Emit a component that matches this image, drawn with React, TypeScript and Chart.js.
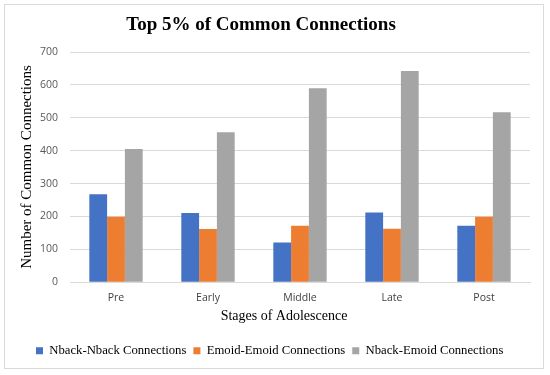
import React, { useEffect, useRef } from "react";
import { Chart, registerables } from "chart.js";

Chart.register(...registerables);

const categories = ["Pre", "Early", "Middle", "Late", "Post"];
const nbackNback = [268, 211, 121, 212, 172];
const emoidEmoid = [199, 162, 172, 163, 199];
const nbackEmoid = [405, 456, 590, 642, 517];
const seriesNames = ["Nback-Nback Connections", "Emoid-Emoid Connections", "Nback-Emoid Connections"];
const yTicks = [0, 100, 200, 300, 400, 500, 600, 700];
const chartTitle = "Top 5% of Common Connections";
const xTitle = "Stages of Adolescence";
const yTitle = "Number of Common Connections";

const SERIF = "'Liberation Serif', 'Times New Roman', serif";
const SANS = "'Open Sans', 'Liberation Sans', sans-serif";

const textPlugin = {
  id: "texts",
  afterDraw(chart: any) {
    const ctx = chart.ctx;
    ctx.save();
    ctx.fillStyle = "#000";
    ctx.textAlign = "center";
    ctx.textBaseline = "middle";
    ctx.font = `bold 19px ${SERIF}`;
    ctx.fillText(chartTitle, 261, 25);
    ctx.font = `14px ${SERIF}`;
    ctx.fillText(xTitle, 284, 316);
    ctx.translate(27, 167);
    ctx.rotate(-Math.PI / 2);
    ctx.font = `15px ${SERIF}`;
    ctx.fillText(yTitle, 0, 0);
    ctx.restore();
  },
};

export default function App() {
  const ref = useRef<HTMLCanvasElement | null>(null);
  useEffect(() => {
    document.body.style.margin = "0";
    const ctx = ref.current!;
    const chart = new Chart(ctx, {
      type: "bar",
      data: {
        labels: categories,
        datasets: [
          { label: seriesNames[0], data: nbackNback, backgroundColor: "#4472C4" },
          { label: seriesNames[1], data: emoidEmoid, backgroundColor: "#ED7D31" },
          { label: seriesNames[2], data: nbackEmoid, backgroundColor: "#A5A5A5" },
        ],
      },
      plugins: [textPlugin],
      options: {
        animation: false,
        responsive: false,
        maintainAspectRatio: false,
        datasets: { bar: { categoryPercentage: 0.58, barPercentage: 1 } },
        layout: { padding: { left: 29, right: 20, top: 52, bottom: 8 } },
        plugins: {
          title: { display: false },
          legend: {
            position: "bottom",
            align: "start",
            labels: {
              color: "#000",
              boxWidth: 7,
              boxHeight: 7,
              padding: 7,
              font: { family: SERIF, size: 12.7 },
            },
          },
          tooltip: { enabled: false },
        },
        scales: {
          x: {
            grid: { display: false },
            border: { color: "#d9d9d9" },
            ticks: { color: "#404040", font: { family: SANS, size: 10.5 }, padding: 1 },
            afterFit: (s: any) => {
              s.height = 55;
            },
          },
          y: {
            min: 0,
            max: 700,
            afterBuildTicks: (s: any) => {
              s.ticks = yTicks.map((v) => ({ value: v }));
            },
            afterFit: (s: any) => {
              s.width = 41;
            },
            grid: { color: "#d9d9d9", drawTicks: false },
            border: { display: false },
            ticks: { color: "#595959", font: { family: SANS, size: 10.5 }, padding: 12 },
          },
        },
      },
    });
    return () => chart.destroy();
  }, []);
  return (
    <div style={{ position: "relative", width: 550, height: 375, background: "#fff" }}>
      <div
        style={{
          position: "absolute",
          left: 4,
          top: 4,
          width: 540,
          height: 365,
          border: "1px solid #d9d9d9",
          boxSizing: "border-box",
        }}
      />
      <canvas ref={ref} width={550} height={375} style={{ position: "absolute", left: 0, top: 0 }} />
    </div>
  );
}
